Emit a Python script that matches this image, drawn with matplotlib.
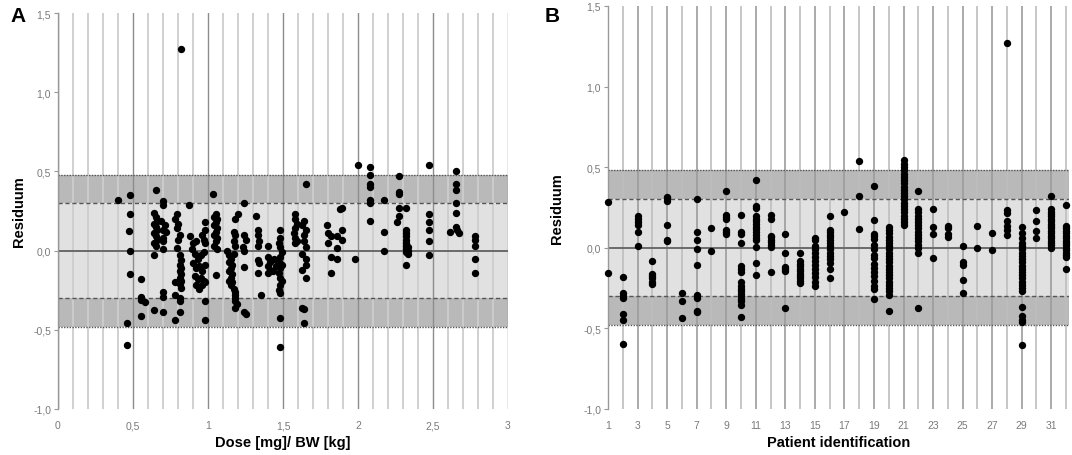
import matplotlib
matplotlib.use("Agg")
import matplotlib.pyplot as plt
from matplotlib.ticker import MultipleLocator, FuncFormatter

plt.rcParams["font.family"] = ["Liberation Sans", "DejaVu Sans"]

# limits of the shaded bands around zero
inner_limit = 0.30
outer_limit = 0.48

# panel A: residual vs dose per body weight
dose_a = [
    0.40, 0.48, 0.48, 0.47, 0.48, 0.48, 0.46, 0.46,
    0.55, 0.55, 0.55, 0.58, 0.55,
    0.65, 0.64, 0.65, 0.66, 0.64, 0.65, 0.66, 0.64, 0.65, 0.66, 0.64, 0.65, 0.64, 0.64,
    0.70, 0.70, 0.69, 0.71, 0.70, 0.72, 0.70, 0.70, 0.70, 0.70, 0.70, 0.70,
    0.79, 0.78, 0.80, 0.79, 0.81, 0.80, 0.79,
    0.81, 0.82, 0.81, 0.82, 0.81, 0.82, 0.81, 0.82, 0.81, 0.82,
    0.78, 0.78, 0.81, 0.81, 0.81, 0.78,
    0.87,
    0.88, 0.90, 0.92, 0.96, 0.97, 0.98, 0.89, 0.91, 0.93, 0.95, 0.97, 0.90, 0.92,
    0.94, 0.96, 0.98, 0.91, 0.93, 0.95, 0.97, 0.92, 0.94, 0.96, 0.98, 0.98, 0.98,
    0.98, 0.98,
    1.03, 1.05, 1.04, 1.06, 1.05, 1.04, 1.06, 1.05, 1.04, 1.06, 1.05, 1.04, 1.06, 1.05,
    1.13, 1.14, 1.15, 1.14, 1.16, 1.15, 1.14, 1.16, 1.15, 1.14, 1.16, 1.15, 1.17, 1.18,
    1.18, 1.18, 1.18, 1.19, 1.18, 1.17, 1.18, 1.17,
    1.18, 1.20, 1.17, 1.18,
    1.24, 1.24, 1.25, 1.23, 1.24, 1.24, 1.24, 1.25,
    1.32, 1.33, 1.33, 1.34, 1.33, 1.33, 1.34, 1.33, 1.35,
    1.40, 1.40, 1.41, 1.40, 1.41, 1.40, 1.44, 1.45, 1.43,
    1.48, 1.48, 1.47, 1.48, 1.49, 1.48, 1.47, 1.49, 1.48, 1.47, 1.48, 1.49, 1.48, 1.47,
    1.48, 1.48, 1.48,
    1.58, 1.58, 1.59, 1.58, 1.57, 1.58, 1.59, 1.58,
    1.64, 1.63, 1.65, 1.64, 1.64, 1.65, 1.63, 1.65, 1.65, 1.63, 1.65, 1.65, 1.63, 1.64, 1.64,
    1.79, 1.80, 1.80, 1.82, 1.82, 1.86, 1.86, 1.86, 1.89, 1.88, 1.89, 1.89, 1.82,
    1.98, 2.00,
    2.08, 2.08, 2.08, 2.08, 2.08, 2.08, 2.08,
    2.17, 2.17, 2.17,
    2.27, 2.27, 2.27, 2.27, 2.27, 2.26, 2.32,
    2.32, 2.32, 2.32, 2.32, 2.32, 2.32, 2.33, 2.32, 2.33, 2.32, 2.33, 2.32,
    2.47, 2.47, 2.47, 2.47, 2.47, 2.47,
    2.61,
    2.65, 2.65, 2.65, 2.65, 2.65, 2.65, 2.66, 2.67,
    2.78, 2.78, 2.78, 2.78, 2.78,
    0.82,
]
resid_a = [
    0.32, 0.35, 0.23, 0.125, 0.0, -0.15, -0.455, -0.595,
    -0.18, -0.29, -0.31, -0.325, -0.41,
    0.385, 0.24, 0.21, 0.19, 0.17, 0.15, 0.13, 0.11, 0.09, 0.07, 0.05, 0.03, -0.03, -0.375,
    0.31, 0.29, 0.19, 0.16, 0.13, 0.12, 0.08, 0.06, 0.01, -0.26, -0.29, -0.39,
    0.23, 0.20, 0.17, 0.14, 0.10, 0.07, 0.015,
    -0.03, -0.06, -0.09, -0.11, -0.13, -0.15, -0.17, -0.19, -0.21, -0.235,
    -0.20, -0.28, -0.30, -0.32, -0.39, -0.435,
    0.29,
    0.09, 0.05, 0.06, 0.10, 0.07, 0.05, 0.01, -0.02, -0.05, -0.03, -0.01, -0.08, -0.11,
    -0.10, -0.13, -0.09, -0.16, -0.18, -0.17, -0.19, -0.22, -0.24, -0.215, -0.20, 0.13, 0.18,
    -0.32, -0.435,
    0.355, 0.23, 0.21, 0.20, 0.18, 0.16, 0.14, 0.12, 0.10, 0.08, 0.06, 0.03, 0.01, -0.155,
    0.0, -0.03, -0.05, -0.07, -0.09, -0.11, -0.13, -0.15, -0.17, -0.19, -0.20, -0.22, -0.24, -0.26,
    -0.28, -0.30, -0.32, -0.34, -0.36, 0.06, 0.03, -0.02,
    0.20, 0.23, 0.12, 0.10,
    0.30, 0.10, 0.07, 0.02, 0.0, -0.105, -0.39, -0.40,
    0.22, 0.13, 0.10, 0.06, 0.03, -0.06, -0.08, -0.14, -0.28,
    0.03, -0.04, -0.07, -0.10, -0.12, -0.14, -0.05, -0.10, -0.13,
    0.13, 0.08, 0.05, 0.02, -0.01, -0.04, -0.07, -0.09, -0.11, -0.14, -0.17, -0.19, -0.22, -0.25,
    -0.27, -0.425, -0.61,
    0.23, 0.20, 0.17, 0.14, 0.11, 0.08, 0.06, 0.05,
    0.19, 0.16, 0.13, 0.10, 0.06, 0.02, -0.02, -0.05, -0.09, -0.12, -0.17, 0.42, -0.36, -0.37, -0.46,
    0.16, 0.11, 0.05, 0.09, -0.04, 0.09, 0.015, -0.05, 0.27, 0.26, 0.13, 0.07, -0.14,
    -0.05, 0.54,
    0.53, 0.48, 0.42, 0.40, 0.32, 0.30, 0.19,
    0.32, 0.12, 0.0,
    0.47, 0.37, 0.36, 0.27, 0.22, 0.18, 0.27,
    0.13, 0.11, 0.09, 0.07, 0.05, 0.03, 0.02, 0.01, 0.0, -0.01, -0.02, -0.09,
    0.54, 0.23, 0.18, 0.13, 0.06, -0.025,
    0.12,
    0.50, 0.42, 0.38, 0.30, 0.24, 0.15, 0.13, 0.11,
    0.09, 0.07, 0.03, -0.05, -0.14,
    1.27,
]

# panel B: residuals grouped by patient 1..32
resid_by_patient = [
    [0.287, -0.154],
    [-0.18, -0.28, -0.30, -0.31, -0.41, -0.45, -0.595],
    [0.195, 0.18, 0.16, 0.14, 0.10, 0.01],
    [-0.084, -0.16, -0.175, -0.19, -0.21, -0.225],
    [0.318, 0.31, 0.29, 0.14, 0.05, 0.04],
    [-0.28, -0.33, -0.437],
    [0.30, 0.10, 0.047, -0.01, -0.105, -0.29, -0.31, -0.39, -0.40],
    [0.123, -0.02],
    [0.355, 0.205, 0.19, 0.18, 0.11, 0.097, 0.084],
    [0.205, 0.10, 0.088, 0.03, -0.11, -0.13, -0.15, -0.215, -0.235, -0.255, -0.27,
     -0.285, -0.30, -0.315, -0.33, -0.355, -0.43],
    [0.42, 0.257, 0.245, 0.195, 0.18, 0.165, 0.15, 0.13, 0.115, 0.10, 0.08, 0.06,
     0.047, 0.006, -0.092, -0.17],
    [0.205, 0.18, 0.076, 0.064, 0.05, 0.035, 0.02, 0.006, -0.148],
    [0.088, -0.035, -0.117, -0.13, -0.146, -0.376],
    [-0.031, -0.08, -0.10, -0.115, -0.13, -0.145, -0.16, -0.175, -0.19, -0.205, -0.22],
    [0.062, 0.047, 0.01, -0.01, -0.03, -0.055, -0.08, -0.105, -0.133, -0.158, -0.183,
     -0.21, -0.236],
    [0.20, 0.113, 0.097, 0.08, 0.064, 0.047, 0.031, 0.01, -0.01, -0.031, -0.051,
     -0.072, -0.092, -0.133, -0.185],
    [0.222],
    [0.54, 0.322, 0.117],
    [0.384, 0.175, 0.088, 0.072, 0.055, 0.02, -0.01, -0.047, -0.062, -0.103, -0.123,
     -0.15, -0.175, -0.205, -0.236, -0.257, -0.318],
    [0.129, 0.11, 0.09, 0.07, 0.05, 0.03, 0.01, -0.01, -0.03, -0.05, -0.07, -0.09,
     -0.11, -0.13, -0.15, -0.17, -0.19, -0.21, -0.23, -0.25, -0.27, -0.29, -0.39],
    [0.544, 0.52, 0.50, 0.48, 0.46, 0.44, 0.42, 0.40, 0.38, 0.36, 0.34, 0.32, 0.30,
     0.28, 0.26, 0.24, 0.22, 0.20, 0.18, 0.16, 0.14],
    [0.35, 0.24, 0.22, 0.20, 0.18, 0.16, 0.14, 0.12, 0.10, 0.08, 0.06, 0.04, 0.02,
     0.0, -0.03, -0.372],
    [0.24, 0.13, 0.088, -0.062],
    [0.138, 0.12, 0.088, 0.064],
    [0.014, -0.088, -0.105, -0.20, -0.28],
    [0.133, -0.002],
    [0.092, -0.015],
    [1.27, 0.232, 0.215, 0.164, 0.138, 0.113, 0.08],
    [0.13, 0.09, 0.06, 0.03, 0.01, -0.01, -0.03, -0.05, -0.07, -0.09, -0.11, -0.13,
     -0.15, -0.17, -0.19, -0.21, -0.23, -0.25, -0.27, -0.368, -0.42, -0.45, -0.462, -0.606],
    [0.232, 0.164, 0.103, 0.062],
    [0.322, 0.24, 0.225, 0.21, 0.195, 0.18, 0.165, 0.15, 0.135, 0.12, 0.105, 0.09,
     0.075, 0.06, 0.045, 0.03, 0.015, 0.0],
    [0.267, 0.138, 0.12, 0.105, 0.09, 0.075, 0.06, 0.045, 0.03, 0.015, 0.0, -0.015,
     -0.03, -0.045, -0.06, -0.133],
]

patient_b = []
resid_b = []
for pid, vals in enumerate(resid_by_patient, start=1):
    patient_b += [pid] * len(vals)
    resid_b += vals


def comma(v, pos=None):
    if abs(v - round(v)) < 1e-9:
        return f"{int(round(v))}"
    return f"{v:.1f}".replace(".", ",")


def comma1(v, pos=None):
    return f"{v:.1f}".replace(".", ",")


def style_panel(ax):
    ax.set_ylim(-1.0, 1.5)
    ax.axhspan(-inner_limit, inner_limit, color="#e1e1e1", lw=0, zorder=0.6)
    ax.axhspan(inner_limit, outer_limit, color="#b9b9b9", lw=0, zorder=0.6)
    ax.axhspan(-outer_limit, -inner_limit, color="#b9b9b9", lw=0, zorder=0.6)
    ax.axhline(0, color="#6a6a6a", lw=1.4, zorder=2)
    for s in (inner_limit, -inner_limit):
        ax.axhline(s, color="#555555", lw=1.0, ls=(0, (3, 2)), zorder=2)
    for s in (outer_limit, -outer_limit):
        ax.axhline(s, color="#555555", lw=1.0, ls=(0, (1, 1)), zorder=2)
    ax.yaxis.set_major_locator(MultipleLocator(0.5))
    ax.yaxis.set_major_formatter(FuncFormatter(comma1))
    for side in ("top", "right", "bottom"):
        ax.spines[side].set_visible(False)
    ax.spines["left"].set_color("#999999")
    ax.spines["left"].set_linewidth(1.0)
    ax.tick_params(axis="y", length=3, width=0.8, color="#999999",
                   labelsize=7.5, labelcolor="#7a7a7a", pad=2)
    ax.tick_params(axis="x", which="both", length=0, labelsize=7.5,
                   labelcolor="#7a7a7a", pad=8)
    ax.set_ylabel("Residuum", fontsize=10.5, fontweight="bold")


fig = plt.figure(figsize=(10.72, 4.56), dpi=100)

# panel A
ax1 = fig.add_axes([58 / 1072, 1 - 410 / 456, 450 / 1072, 396 / 456])
style_panel(ax1)
ax1.set_xlim(0, 3)
ax1.xaxis.set_major_locator(MultipleLocator(0.5))
ax1.xaxis.set_minor_locator(MultipleLocator(0.1))
ax1.xaxis.set_major_formatter(FuncFormatter(comma))
ax1.grid(axis="x", which="major", color="#8c8c8c", lw=1.0)
ax1.grid(axis="x", which="minor", color="#cdcdcd", lw=1.3)
ax1.scatter(dose_a, resid_a, s=28, color="black", lw=0, zorder=3, clip_on=False)
ax1.set_xlabel("Dose [mg]/ BW [kg]", fontsize=10.5, fontweight="bold")
ax1.xaxis.set_label_coords(0.5, -0.066)
ax1.yaxis.set_label_coords(-0.07, 0.5)

# panel B
ax2 = fig.add_axes([608 / 1072, 1 - 410 / 456, 461 / 1072, 403 / 456])
style_panel(ax2)
ax2.set_xlim(1, 32.2)
ax2.set_xticks(range(1, 33, 2))
ax2.set_xticks(range(2, 33, 2), minor=True)
ax2.grid(axis="x", which="major", color="#9c9c9c", lw=1.2)
ax2.grid(axis="x", which="minor", color="#bdbdbd", lw=1.2)
ax2.scatter(patient_b, resid_b, s=28, color="black", lw=0, zorder=3, clip_on=False)
ax2.set_xlabel("Patient identification", fontsize=10.5, fontweight="bold")
ax2.xaxis.set_label_coords(0.5, -0.065)
ax2.yaxis.set_label_coords(-0.096, 0.5)

fig.text(10 / 1072, 1 - 16 / 456, "A", fontsize=15, fontweight="bold", va="center")
fig.text(545 / 1072, 1 - 16 / 456, "B", fontsize=15, fontweight="bold", va="center")

fig.savefig("out.png", dpi=100)
